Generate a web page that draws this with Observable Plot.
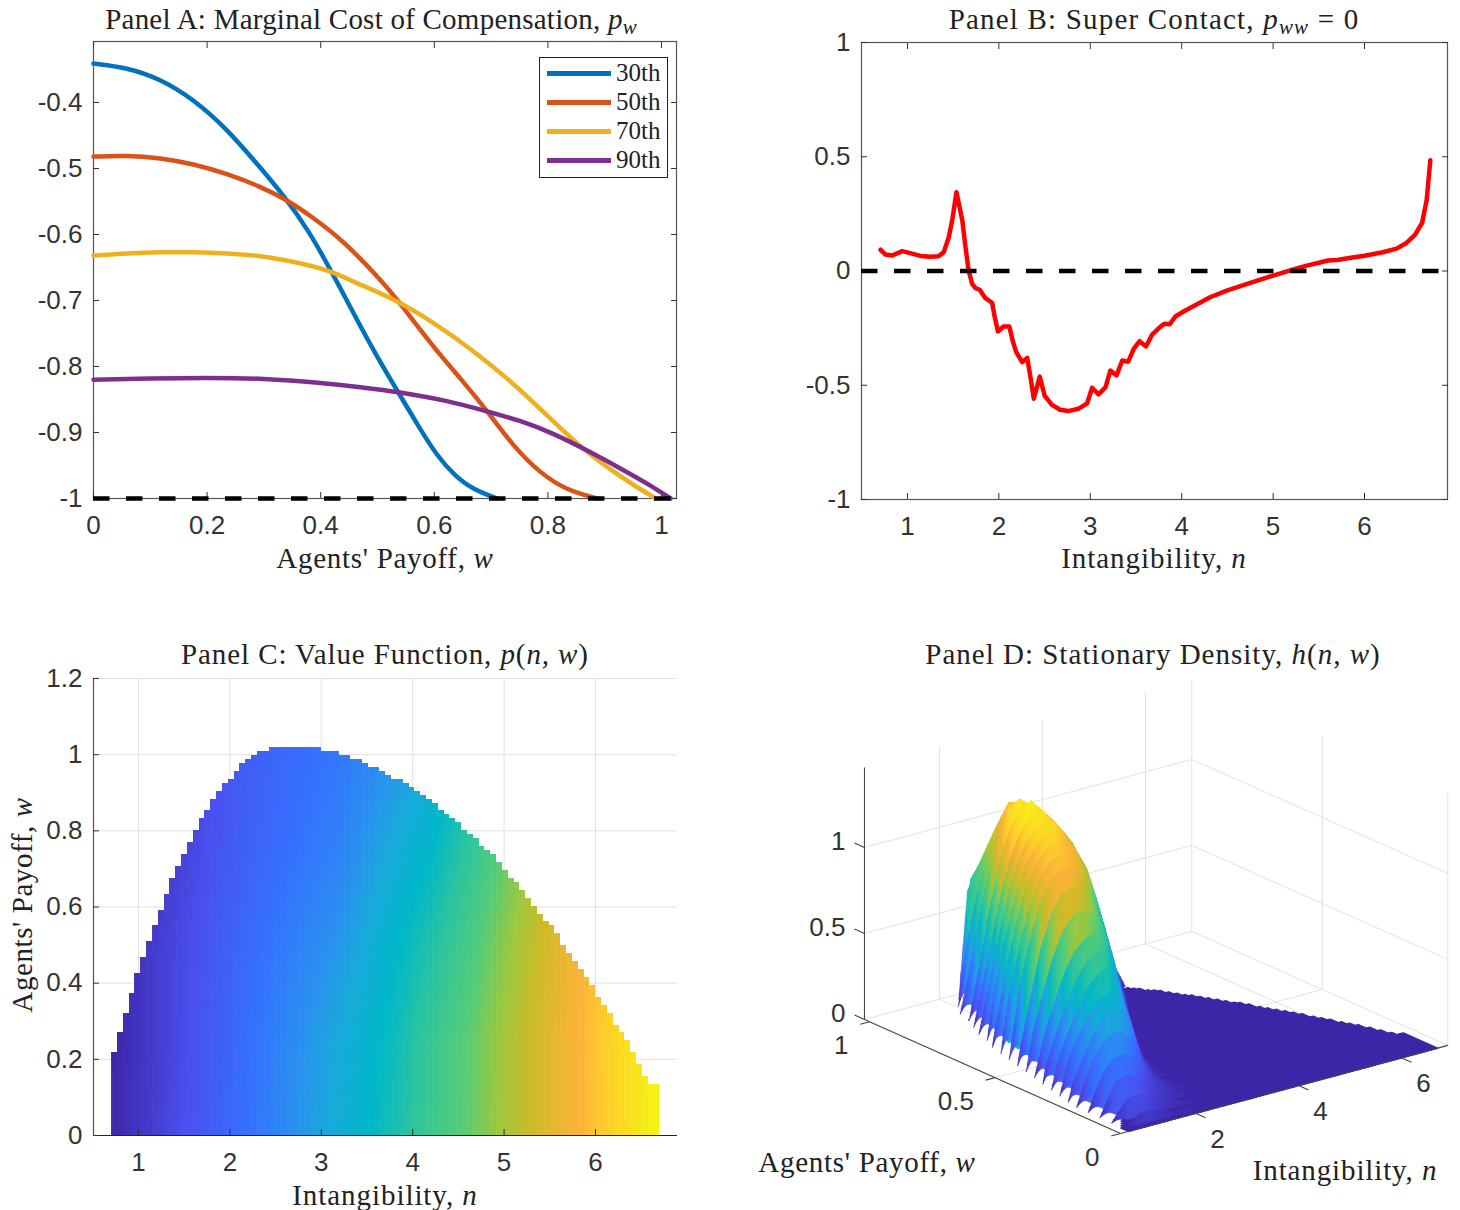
<!DOCTYPE html>
<html><head><meta charset="utf-8">
<script src="https://cdn.jsdelivr.net/npm/d3@7"></script>
<script src="https://cdn.jsdelivr.net/npm/@observablehq/plot@0.6"></script>
<style>
html,body{margin:0;padding:0;background:#fff}
#page{position:relative;width:1460px;height:1210px;overflow:hidden;background:#fff}
#page svg{position:absolute;background:transparent}
.t{position:absolute;white-space:nowrap;font-family:"Liberation Serif",serif;color:#222;line-height:1}
.t sub{font-size:.72em;line-height:0;vertical-align:-.25em}
#legend{position:absolute;left:539px;top:57px;width:127px;height:119px;border:1px solid #222;background:#fff}
#legend .k{position:absolute;left:7px;width:64px;height:4.5px}
#legend .l{position:absolute;left:76px;font:25px "Liberation Serif",serif;color:#222;line-height:1}
</style></head><body><div id="page"></div>
<script>
// ---------- Panel A: marginal cost of compensation ----------
const seriesA = ["30th","50th","70th","90th"];
const colorsA = ["#0072BD","#D95319","#EDB120","#7E2F8E"];
const w30 = [0,.0587,.117,.176,.235,.293,.3375,.381,.40,.434,.458,.4995,.537,.558,.581,.605,.634,.669,.711];
const p30 = [-.341,-.347,-.364,-.395,-.44,-.498,-.5435,-.598,-.627,-.68,-.72,-.786,-.84,-.87,-.903,-.935,-.964,-.987,-1];
const w50 = [0,.0587,.117,.176,.235,.293,.3375,.381,.44,.511,.5287,.5986,.646,.693,.74,.787,.834,.887];
const p50 = [-.482,-.4803,-.4838,-.493,-.508,-.527,-.546,-.571,-.609,-.674,-.692,-.771,-.818,-.867,-.922,-.962,-.988,-1];
const w70 = [0,.0587,.117,.176,.235,.293,.352,.417,.458,.5287,.5986,.669,.74,.7985,.857,.904,.951,.99];
const p70 = [-.632,-.6283,-.6268,-.6268,-.6283,-.632,-.641,-.6545,-.672,-.697,-.733,-.776,-.826,-.874,-.922,-.9526,-.98,-1];
const w90 = [0,.1,.2,.3,.40,.47,.5405,.622,.693,.752,.81,.869,.928,.9747,1.016];
const p90 = [-.82,-.818,-.817,-.818,-.8247,-.8314,-.839,-.8515,-.868,-.882,-.9015,-.927,-.9545,-.977,-1];
const linesA = [[w30,p30],[w50,p50],[w70,p70],[w90,p90]];

// ---------- Panel B: super contact ----------
const nB = [.705,.76,.833,.942,1.03,1.142,1.25,1.342,1.397,1.452,1.489,1.536,1.6,1.635,1.67,1.708,1.744,1.79,1.853,1.926,1.955,1.99,2.05,2.115,2.15,2.19,2.255,2.31,2.346,2.382,2.447,2.5,2.58,2.67,2.76,2.87,2.966,3.02,3.09,3.166,3.22,3.287,3.35,3.415,3.477,3.54,3.61,3.677,3.75,3.81,3.87,3.93,4.04,4.21,4.31,4.5,4.75,5,5.25,5.4,5.5,5.6,5.7,5.85,6,6.2,6.35,6.45,6.55,6.63,6.68,6.72];
const vB = [.093,.072,.068,.087,.078,.066,.062,.065,.082,.148,.221,.345,.221,.104,0,-.056,-.075,-.082,-.119,-.139,-.202,-.265,-.243,-.243,-.304,-.355,-.399,-.38,-.465,-.559,-.462,-.545,-.586,-.607,-.613,-.603,-.579,-.511,-.54,-.509,-.436,-.457,-.392,-.397,-.34,-.307,-.33,-.278,-.25,-.231,-.233,-.199,-.173,-.137,-.115,-.085,-.052,-.02,.01,.027,.036,.046,.048,.058,.067,.082,.098,.12,.157,.21,.31,.485];

// ---------- Panel C: upper boundary of the domain, one value per grid column ----------
const wBar = [.218,.27,.322,.374,.425,.469,.51,.551,.593,.635,.677,.708,.739,.771,.801,.833,.853,.884,.906,.926,.937,.958,.979,.989,1,1.01,1.01,1.02,1.02,1.02,1.02,1.02,1.02,1.02,1.02,1.02,1.01,1.01,1.01,1,1,.989,.989,.979,.968,.968,.958,.947,.937,.937,.926,.916,.905,.895,.884,.874,.853,.843,.832,.822,.801,.79,.78,.759,.749,.738,.717,.697,.677,.665,.645,.624,.603,.582,.561,.551,.529,.499,.479,.458,.437,.417,.395,.364,.344,.322,.291,.271,.25,.218,.187,.156,.136,.136];
// position on the colour ramp, rows by w, columns by n
const pW = [0,.25,.5,.75,1.02];
const pN = [.7,1.2,1.7,2.2,2.7,3.2,3.7,4.2,4.7,5.2,5.7,6.2,6.7];
const pTable = [
 [0,.08,.16,.245,.33,.415,.50,.585,.67,.755,.84,.92,1],
 [0,.07,.15,.235,.32,.40,.48,.575,.665,.755,.84,.925,1],
 [0,.07,.14,.22,.285,.35,.445,.53,.63,.735,.83,.92,1],
 [0,.05,.12,.19,.245,.29,.39,.465,.58,.70,.82,.92,1],
 [0,.05,.11,.18,.22,.26,.32,.40,.54,.67,.80,.92,1]
];
const rampStops = [0,.13,.24,.33,.39,.47,.55,.64,.71,.77,.86,.91,1];
const rampColors = ["#3e26a8","#4a50f0","#3570ff","#2a90f0","#1ba8dd","#00b8c8","#2cc4a0","#55cc78","#9cc840","#ccbb28","#fdb33a","#fdcf2a","#f5f515"];

// ---------- Panel D: stationary density, rows by w, columns by n ----------
const hN = [.7,.85,1,1.2,1.4,1.6,1.8,2,2.2,2.4,2.6,2.8,3,3.2,3.4,3.6,3.8,4,4.2,4.4,4.6];
const hW = [.02,.066,.113,.16,.206,.253,.30,.346,.393,.44,.486,.533,.58,.626,.673,.72,.766,.813,.86,.906,.953,.99,1.019];
const _ = null;
const hTable = [
 [.005,.03,.065,.07,.05,.03,.02,.015,.01,.005,0],
 [.01,.07,.12,.13,.11,.08,.05,.03,.02,.01,0],
 [.01,.10,.19,.21,.18,.13,.09,.06,.03,.015,0],
 [.01,.12,.22,.28,.29,.24,.14,.09,.05,.03,.01,0],
 [.01,.14,.25,.34,.38,.37,.29,.15,.07,.03,.01,0],
 [_,.10,.20,.33,.42,.47,.45,.34,.14,.05,.02,0],
 [_,_,.20,.33,.43,.50,.53,.50,.33,.11,.03,.01,0],
 [_,_,.14,.30,.43,.54,.60,.62,.50,.30,.08,.01,0],
 [_,_,.08,.27,.42,.55,.64,.69,.66,.48,.27,.05,0],
 [_,_,_,.22,.40,.56,.67,.73,.75,.69,.47,.25,.04,0],
 [_,_,_,.20,.42,.62,.76,.84,.85,.80,.70,.49,.25,.03,0],
 [_,_,_,.10,.38,.65,.83,.93,.95,.92,.84,.68,.47,.23,0],
 [_,_,_,_,.38,.65,.85,.97,1.02,1.02,.95,.83,.67,.46,.22,0],
 [_,_,_,_,.28,.55,.78,.94,1.03,1.06,1.04,.98,.86,.66,.43,.2,0],
 [_,_,_,_,.12,.42,.68,.88,1.0,1.07,1.08,1.05,.98,.86,.65,.42,.18,0],
 [_,_,_,_,_,.28,.55,.78,.95,1.05,1.10,1.10,1.05,.96,.84,.63,.41,.17,0],
 [_,_,_,_,_,.10,.38,.65,.87,1.02,1.10,1.13,1.12,1.03,.92,.81,.61,.39,.15,0],
 [_,_,_,_,_,_,.20,.47,.75,.95,1.08,1.14,1.15,1.08,.99,.89,.77,.59,.37,.13,0],
 [_,_,_,_,_,_,.0,.30,.62,.88,1.05,1.14,1.18,1.11,1.04,.96,.87,.74,.57],
 [_,_,_,_,_,_,_,.20,.50,.78,.98,1.12,1.16,1.11,1.06,1.0,.92,.83],
 [_,_,_,_,_,_,_,_,.35,.62,.82,.95,1.06,1.09,1.06,1.02],
 [_,_,_,_,_,_,_,_,.25,.62,.74,.86,.97,1.07,1.05],
 [_,_,_,_,_,_,_,_,_,_,.65,.74,.84]
];
const nTicksD = [2,4,6], wTicksD = [0,.5,1], zTicksD = [0,.5,1];
const nMinD=.544, nMaxD=6.9, wMaxD=1.02, zMaxD=1.465;

// ---------- shared ----------
const page = document.getElementById("page");
const nStep = 6/94;
const axisColor="#555", tickFont="Liberation Sans, Arial, sans-serif", tickSize="26px";
function add(plot,left,top){plot.style.left=left+"px";plot.style.top=top+"px";page.appendChild(plot);}
function label(html,cx,cy,target,size,rot){
  const d=document.createElement("div");d.className="t";d.innerHTML=html;
  d.style.left=cx+"px";d.style.top=cy+"px";d.style.fontSize=size+"px";
  d.style.transform="translate(-50%,-50%)"+(rot?` rotate(${rot}deg)`:"");
  page.appendChild(d);
  const w=d.offsetWidth, c=d.textContent.length;
  d.style.letterSpacing=((target-w)/c).toFixed(3)+"px";
}
function base(width,height,m,xd,yd,marks,extra){
  return Plot.plot({width,height,marginLeft:m[0],marginRight:m[1],marginTop:m[2],marginBottom:m[3],
    x:{domain:xd,label:null},y:{domain:yd,label:null},
    style:{fontFamily:tickFont,fontSize:tickSize,color:"#333",background:"transparent"},
    marks,...extra});
}
function box(xT,yT){
  return [
    Plot.frame({stroke:axisColor,strokeWidth:1.2}),
    Plot.axisX({anchor:"bottom",ticks:xT,tickSize:-6,tickPadding:23,tickFormat:String,label:null,stroke:"#333"}),
    Plot.axisY({anchor:"left",ticks:yT,tickSize:-6,tickPadding:17,tickFormat:String,label:null,stroke:"#333"}),
    Plot.axisX({anchor:"top",ticks:xT,tickSize:-6,text:null,label:null,stroke:"#333"}),
    Plot.axisY({anchor:"right",ticks:yT,tickSize:-6,text:null,label:null,stroke:"#333"})
  ];
}

// ---------- Panel A ----------
add(base(700,590,[93,24,41,92],[0,1.0264],[-1,-.3076],[
  ...box([0,.2,.4,.6,.8,1],[-1,-.9,-.8,-.7,-.6,-.5,-.4]),
  ...linesA.map(([xs,ys],i)=>Plot.line(xs.map((x,k)=>({x,y:ys[k]})),{x:"x",y:"y",stroke:colorsA[i],strokeWidth:4.5,curve:"basis"})),
  Plot.ruleY([-1],{stroke:"#000",strokeWidth:4.5,strokeDasharray:"16.5,16.5"})
]),0,0);

// ---------- Panel B ----------
add(base(680,590,[81,13,42,91],[.497,6.908],[-1,1],[
  ...box([1,2,3,4,5,6],[-1,-.5,0,.5,1]),
  Plot.line(nB.map((x,k)=>({x,y:vB[k]})),{x:"x",y:"y",stroke:"#f00",strokeWidth:4.5,strokeLinejoin:"round"}),
  Plot.ruleY([0],{stroke:"#000",strokeWidth:4.5,strokeDasharray:"16.5,16.5"})
]),780,0);

// ---------- Panel C ----------
function pAt(n,w){
  const i=Math.min(pN.length-2,Math.max(0,d3.bisectRight(pN,n)-1));
  const j=Math.min(pW.length-2,Math.max(0,d3.bisectRight(pW,w)-1));
  const a=(n-pN[i])/(pN[i+1]-pN[i]), b=(w-pW[j])/(pW[j+1]-pW[j]);
  return (1-b)*((1-a)*pTable[j][i]+a*pTable[j][i+1])+b*((1-a)*pTable[j+1][i]+a*pTable[j+1][i+1]);
}
const gridC="#e2e2e2";
add(base(700,580,[93,23,48,75],[.508,6.897],[0,1.2],[
  Plot.gridX({ticks:[1,2,3,4,5,6],stroke:gridC,strokeOpacity:1}),
  Plot.gridY({ticks:[.2,.4,.6,.8,1,1.2],stroke:gridC,strokeOpacity:1}),
  Plot.raster({x1:.7,x2:6.7,y1:0,y2:1.02,width:94,height:98,imageRendering:"pixelated",
    fill:(n,w)=>{const c=Math.min(93,Math.floor((n-.7)/nStep));return w<=wBar[c]?pAt(n,w):NaN;}}),
  Plot.ruleY([0],{stroke:"#222",strokeWidth:1.2}),
  Plot.ruleX([.508],{stroke:axisColor,strokeWidth:1.2}),
  Plot.axisX({anchor:"bottom",ticks:[1,2,3,4,5,6],tickSize:-6,tickPadding:23,tickFormat:String,label:null,stroke:"#333"}),
  Plot.axisY({anchor:"left",ticks:[0,.2,.4,.6,.8,1,1.2],tickSize:-6,tickPadding:17,tickFormat:String,label:null,stroke:"#333"})
],{color:{type:"linear",domain:rampStops,range:rampColors,interpolate:"rgb"}}),0,630);

// ---------- Panel D ----------
const PX=(n,w,z)=>1120+(n-nMinD)*51.5-251*w;
const PY=(n,w,z)=>1133-(n-nMinD)*13.86-111.8*w-172*z;
const seg=(a,b)=>({x1:PX(...a),y1:PY(...a),x2:PX(...b),y2:PY(...b)});
const wallGrid=[
  ...nTicksD.map(n=>seg([n,wMaxD,0],[n,wMaxD,zMaxD])),
  ...[.0,.5].map(w=>seg([nMaxD,w,0],[nMaxD,w,zMaxD])),
  seg([nMaxD,wMaxD,0],[nMaxD,wMaxD,zMaxD]),
  ...[0,.5,1].map(z=>seg([nMinD,wMaxD,z],[nMaxD,wMaxD,z])),
  ...[0,.5,1].map(z=>seg([nMaxD,0,z],[nMaxD,wMaxD,z])),
  ...nTicksD.map(n=>seg([n,0,0],[n,wMaxD,0])),
  seg([nMinD,.5,0],[nMaxD,.5,0])
];
const axesD=[seg([nMinD,wMaxD,0],[nMinD,wMaxD,zMaxD]),seg([nMinD,0,0],[nMinD,wMaxD,0]),seg([nMinD,0,0],[nMaxD,0,0])];
const ticksD=[
  ...nTicksD.map(n=>seg([n,0,0],[n,-.04,0])),
  ...wTicksD.map(w=>seg([nMinD,w,0],[nMinD-.18,w,0])),
  ...zTicksD.map(z=>seg([nMinD,wMaxD,z],[nMinD,wMaxD+.04,z]))
];
// floor: one column per grid step of the domain; under the ridge it stays near the
// front so that it does not show through the toothed rim on the left
const floorCells=[];
wBar.forEach((wb,i)=>{const a=.7+i*nStep,b=a+nStep;
  const top=a<3.2?Math.min(wb,.03+(a-.7)*.2):wb;
  floorCells.push({q:i,x:PX(a,0,0),y:PY(a,0,0)},{q:i,x:PX(b,0,0),y:PY(b,0,0)},
                  {q:i,x:PX(b,top,0),y:PY(b,top,0)},{q:i,x:PX(a,top,0),y:PY(a,top,0)});});
// slices of constant w, painted far to near; each cell hangs from its slice,
// with the lower edge lifted just after the slice's left end so the rim is toothed
const quads=[];let q=0;
function quad(a,b,w,za,zb,ba,bb,h){
  const id=q++;
  quads.push({q:id,x:PX(a,w,za),y:PY(a,w,za),h},{q:id,x:PX(b,w,zb),y:PY(b,w,zb),h},
             {q:id,x:PX(b,w,bb),y:PY(b,w,bb),h},{q:id,x:PX(a,w,ba),y:PY(a,w,ba),h});
}
for(let j=hW.length-1;j>=0;j--){
  const w=hW[j], first=wBar.findIndex(v=>v>=w), nL=.7+first*nStep;
  const pts=[]; if(nL>.7+1e-6) pts.push([nL,0]);
  hTable[j].forEach((z,i)=>{if(z!==null&&hN[i]>nL-1e-6)pts.push([hN[i],z]);});
  const lift=(n,z)=>z*.45*Math.max(0,1-(n-nL)/.3);
  for(let k=0;k<pts.length-1;k++){
    const [a,za]=pts[k],[b,zb]=pts[k+1],sub=4;
    for(let s=0;s<sub;s++){
      const a2=a+(b-a)*s/sub,b2=a+(b-a)*(s+1)/sub,z1=za+(zb-za)*s/sub,z2=za+(zb-za)*(s+1)/sub;
      quad(a2,b2,w,z1,z2,lift(a2,z1),lift(b2,z2),(z1+z2)/2);
    }
  }
}
const txt=(vals,f,opts)=>Plot.text(vals.map(f),{x:"x",y:"y",text:"t",...opts});
add(Plot.plot({width:720,height:530,margin:0,
  x:{domain:[740,1460],range:[0,720],axis:null},
  y:{domain:[680,1210],range:[0,530],axis:null},
  color:{type:"linear",domain:rampStops.map(t=>t*1.2),range:rampColors,interpolate:"rgb"},
  style:{fontFamily:tickFont,fontSize:tickSize,color:"#333",background:"transparent"},
  marks:[
    Plot.link(wallGrid,{x1:"x1",y1:"y1",x2:"x2",y2:"y2",stroke:"#e2e2e2",strokeWidth:1}),
    Plot.line(floorCells,{x:"x",y:"y",z:"q",fill:rampColors[0],stroke:rampColors[0],strokeWidth:1.6,curve:"linear-closed"}),
    Plot.line(quads,{x:"x",y:"y",z:"q",fill:"h",stroke:"h",strokeWidth:.6,curve:"linear-closed"}),
    Plot.link(axesD,{x1:"x1",y1:"y1",x2:"x2",y2:"y2",stroke:"#444",strokeWidth:1.1}),
    Plot.link(ticksD,{x1:"x1",y1:"y1",x2:"x2",y2:"y2",stroke:"#444",strokeWidth:1.1}),
    txt(nTicksD,n=>({x:PX(n,0,0),y:PY(n,0,0),t:String(n)}),{dx:22,dy:26,textAnchor:"middle",fill:"#333"}),
    txt(wTicksD,w=>({x:PX(nMinD,w,0),y:PY(nMinD,w,0),t:String(w)}),{dx:-21,dy:24,textAnchor:"end",fill:"#333"}),
    txt(zTicksD,z=>({x:PX(nMinD,wMaxD,z),y:PY(nMinD,wMaxD,z),t:String(z)}),{dx:-19,dy:-6,textAnchor:"end",fill:"#333"})
  ]}),740,680);

// ---------- legend ----------
const leg=document.createElement("div");leg.id="legend";
seriesA.forEach((s,i)=>{
  const y=[13,42,71,100][i];
  leg.insertAdjacentHTML("beforeend",`<div class="k" style="top:${y}px;background:${colorsA[i]}"></div><div class="l" style="top:${y-11.5}px">${s}</div>`);
});
page.appendChild(leg);

// ---------- titles and axis labels ----------
label('Panel A: Marginal Cost of Compensation, <i>p<sub>w</sub></i>',371,19,532,29);
label('Panel B: Super Contact, <i>p<sub>ww</sub></i> = 0',1154,19,411,29);
label('Panel C: Value Function, <i>p</i>(<i>n, w</i>)',385,654,408,29);
label('Panel D: Stationary Density, <i>h</i>(<i>n, w</i>)',1153,654,455,29);
label("Agents' Payoff, <i>w</i>",385,558,217,29);
label('Intangibility, <i>n</i>',1154,558,186,29);
label('Intangibility, <i>n</i>',385,1195,186,29);
label("Agents' Payoff, <i>w</i>",22,905,215,29,-90);
label("Agents' Payoff, <i>w</i>",867,1162,217,29);
label('Intangibility, <i>n</i>',1345,1170,185,29);
</script></body></html>
